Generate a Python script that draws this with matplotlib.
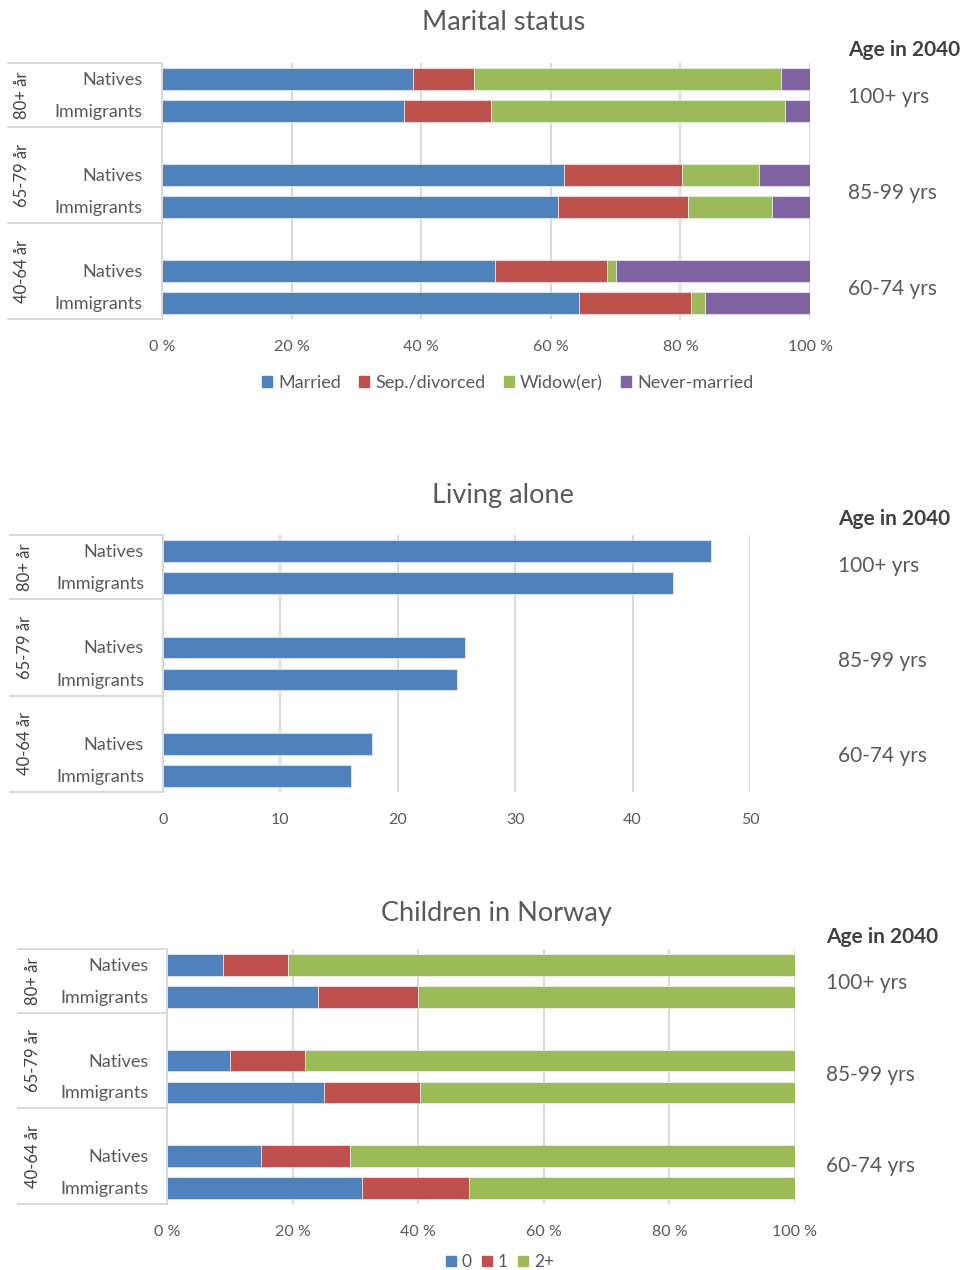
import matplotlib

matplotlib.use("Agg")
import matplotlib.pyplot as plt
from matplotlib.patches import Patch
from matplotlib.lines import Line2D

# Office-style palette
BLUE = "#4f81bd"
RED = "#c0504d"
GREEN = "#9bbb59"
VIOLET = "#8064a2"
INK = "#595959"
DARK = "#404040"
GRID = "#d9d9d9"

W, H = 967, 1270

# Rows top to bottom: 80+ natives, 80+ immigrants, 65-79 ..., 40-64 ...
groups = ["80+ år", "65-79 år", "40-64 år"]
rows = ["Natives", "Immigrants"]
age_2040 = ["100+ yrs", "85-99 yrs", "60-74 yrs"]

married = [38.8, 37.4, 62.0, 61.1, 51.4, 64.4]
separated = [9.3, 13.4, 18.2, 20.0, 17.3, 17.3]
widowed = [47.5, 45.3, 12.0, 13.1, 1.4, 2.1]
never_married = [4.4, 3.9, 7.8, 5.8, 29.9, 16.2]

living_alone = [46.7, 43.4, 25.7, 25.0, 17.8, 16.0]

children_0 = [8.9, 24.1, 10.0, 25.0, 15.0, 31.1]
children_1 = [10.3, 15.8, 12.0, 15.3, 14.1, 17.0]
children_2plus = [80.8, 60.1, 78.0, 59.7, 70.9, 51.9]

plt.rcParams.update({"font.family": ["Lato", "DejaVu Sans"], "text.color": INK})

fig = plt.figure(figsize=(W / 100, H / 100), dpi=100)


def px_axes(left, top, right, bottom):
    return fig.add_axes([left / W, 1 - bottom / H, (right - left) / W, (bottom - top) / H])


# two bars per age group and a blank slot between groups: 8 slots, top = 8
Y = [8 - 3 * g - k - 0.5 for g in range(len(groups)) for k in range(len(rows))]
BOUNDS = [8, 6, 3, 0]
CENTRES = [7, 4.5, 1.5]


def category_block(ax, block_left, outer_x, inner_right):
    """Two-level category labels to the left of the plot area."""
    bbox = ax.get_position()
    ax_left_px = bbox.x0 * W
    ax_w_px = bbox.width * W

    def fx(px):
        return (px - ax_left_px) / ax_w_px

    tr = ax.get_yaxis_transform()
    for b in BOUNDS:
        ax.add_line(Line2D([fx(block_left), 0], [b, b], transform=tr, color=GRID,
                           lw=1.4, clip_on=False))
    ax.add_line(Line2D([0, 0], [0, 8], transform=tr, color=GRID, lw=1.4, clip_on=False))
    for g, c in zip(groups, CENTRES):
        ax.text(fx(outer_x), c, g, transform=tr, rotation=90, ha="center", va="center",
                fontsize=12, color=DARK)
    for i, y in enumerate(Y):
        ax.text(fx(inner_right), y - 0.03, rows[i % 2], transform=tr, ha="right",
                va="center", fontsize=13, color=INK)


def age_labels(ax, x_px, head_y, ys):
    bbox = ax.get_position()
    fx = (x_px - bbox.x0 * W) / (bbox.width * W)
    tr = ax.get_yaxis_transform()
    ax.text(fx, head_y, "Age in 2040", transform=tr, ha="left", va="center",
            fontsize=15, fontweight="bold", color=DARK)
    for lab, y in zip(age_2040, ys):
        ax.text(fx, y, lab, transform=tr, ha="left", va="center", fontsize=15, color=INK)


def chrome(ax, xmax, step, pct):
    ax.set_ylim(0, 8)
    ax.set_xlim(0, xmax)
    ax.set_yticks([])
    ticks = list(range(0, xmax + 1, step))
    ax.set_xticks(ticks)
    ax.set_xticklabels([f"{t} %" if pct else str(t) for t in ticks])
    ax.tick_params(axis="x", length=0, pad=15, labelsize=11.5, labelcolor=INK)
    for s in ax.spines.values():
        s.set_visible(False)
    for t in ticks:
        ax.axvline(t, color=GRID, lw=1.4, zorder=0)


def stacked(ax, series, colors):
    left = [0] * len(Y)
    for vals, col in zip(series, colors):
        ax.barh(Y, vals, left=left, height=0.68, color=col, edgecolor="white",
                linewidth=0.4, zorder=2)
        left = [a + b for a, b in zip(left, vals)]


def legend(handles, y_px, x_px, size=13, spacing=1.0):
    fig.legend(handles=handles, loc="center", bbox_to_anchor=(x_px / W, 1 - y_px / H),
               ncol=len(handles), frameon=False, fontsize=size, handlelength=0.55,
               handleheight=0.55, handletextpad=0.35, columnspacing=spacing,
               labelcolor=INK)


# --- Marital status ---
ax1 = px_axes(162, 63, 810, 319)
chrome(ax1, 100, 20, True)
stacked(ax1, [married, separated, widowed, never_married], [BLUE, RED, GREEN, VIOLET])
category_block(ax1, 8, 22, 143)
age_labels(ax1, 848, 8.4, [6.95, 3.95, 0.95])
fig.text(504 / W, 1 - 22 / H, "Marital status", ha="center", va="center", fontsize=19.5)
legend([Patch(color=c, label=l) for c, l in
        zip([BLUE, RED, GREEN, VIOLET],
            ["Married", "Sep./divorced", "Widow(er)", "Never-married"])], 383, 508)

# --- Living alone ---
ax2 = px_axes(163, 535, 750, 792)
chrome(ax2, 50, 10, False)
ax2.barh(Y, living_alone, height=0.68, color=BLUE, edgecolor="white", linewidth=0.4, zorder=2)
category_block(ax2, 10, 25, 144)
age_labels(ax2, 838, 8.5, [7.03, 4.07, 1.12])
fig.text(503 / W, 1 - 496 / H, "Living alone", ha="center", va="center", fontsize=19.5)

# --- Children in Norway ---
ax3 = px_axes(167, 949, 795, 1204)
chrome(ax3, 100, 20, True)
stacked(ax3, [children_0, children_1, children_2plus], [BLUE, RED, GREEN])
category_block(ax3, 18, 33, 149)
age_labels(ax3, 826, 8.38, [6.93, 4.05, 1.2])
fig.text(496 / W, 1 - 914 / H, "Children in Norway", ha="center", va="center", fontsize=19.5)
legend([Patch(color=c, label=l) for c, l in zip([BLUE, RED, GREEN], ["0", "1", "2+"])],
       1262, 500, size=12.5, spacing=0.6)

fig.savefig("out.png", dpi=100, facecolor="white")
